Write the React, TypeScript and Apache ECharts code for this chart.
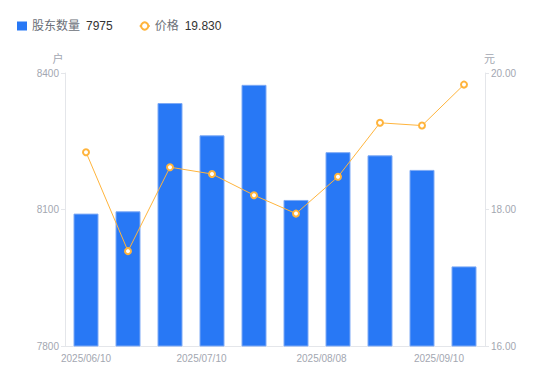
import React, { useEffect, useRef } from "react";
import * as echarts from "echarts";

const categories = [
  "2025/06/10",
  "2025/06/20",
  "2025/06/30",
  "2025/07/10",
  "2025/07/18",
  "2025/07/31",
  "2025/08/08",
  "2025/08/20",
  "2025/08/29",
  "2025/09/10",
];
const holders = [8091, 8096, 8334, 8263, 8374, 8121, 8226, 8219, 8187, 7975];
const prices = [18.84, 17.39, 18.62, 18.52, 18.21, 17.94, 18.48, 19.27, 19.23, 19.83];
const leftTicks = { min: 7800, max: 8400, interval: 300 };
const rightTicks = { min: 16, max: 20, interval: 2 };

export default function App() {
  const ref = useRef<HTMLDivElement>(null);
  useEffect(() => {
    if (!ref.current) return;
    const chart = echarts.init(ref.current, undefined, { renderer: "svg" });
    const font = "'Liberation Sans', 'Noto Sans CJK SC', sans-serif";
    const labelColor = "#a3a7b1";
    const lastHolder = holders[holders.length - 1];
    const lastPrice = prices[prices.length - 1].toFixed(3);
    chart.setOption({
      animation: false,
      textStyle: { fontFamily: font },
      legend: {
        left: 12,
        top: 15,
        itemGap: 26,
        itemWidth: 10,
        itemHeight: 9,
        data: [
          { name: "股东数量", icon: "rect", itemStyle: { borderWidth: 0 } },
          { name: "价格" },
        ],
        formatter: (name: string) =>
          name === "股东数量"
            ? `{n|${name}}{v|${lastHolder}}`
            : `{n|${name}}{v|${lastPrice}}`,
        textStyle: {
          rich: {
            n: { fontSize: 12, color: "#6b6f78", fontFamily: font, padding: [0, 6, 0, 0] },
            v: { fontSize: 12, color: "#333", fontFamily: font },
          },
        },
      },
      grid: { left: 65, right: 65, top: 73, bottom: 35 },
      xAxis: {
        type: "category",
        data: categories,
        axisLine: { lineStyle: { color: "#e4e6ea" } },
        axisTick: { show: false },
        axisLabel: {
          interval: 2,
          color: labelColor,
          fontSize: 10,
          fontFamily: font,
          margin: 7,
          alignMaxLabel: "right",
          formatter: (value: string, index: number) =>
            index === 3 ? `{b|${value}}` : index === 6 ? `{c|${value}}` : value,
          rich: {
            b: { color: labelColor, fontSize: 10, fontFamily: font, padding: [0, 21, 0, 0] },
            c: { color: labelColor, fontSize: 10, fontFamily: font, padding: [0, 33, 0, 0] },
          },
        },
      },
      yAxis: [
        {
          type: "value",
          name: "户",
          nameGap: 9,
          nameTextStyle: { color: labelColor, fontSize: 11, fontFamily: font, padding: [0, 14, 0, 0] },
          ...leftTicks,
          axisLine: { show: true, lineStyle: { color: "#e4e6ea" } },
          axisTick: { show: true, length: 4, lineStyle: { color: "#e4e6ea" } },
          splitLine: { show: false },
          axisLabel: {
            color: labelColor,
            fontSize: 10,
            fontFamily: font,
            margin: 6,
            formatter: (v: number) => String(v),
          },
        },
        {
          type: "value",
          name: "元",
          nameGap: 9,
          nameTextStyle: { color: labelColor, fontSize: 11, fontFamily: font, padding: [0, 0, 0, 9] },
          ...rightTicks,
          axisLine: { show: true, lineStyle: { color: "#e4e6ea" } },
          axisTick: { show: true, length: 4, lineStyle: { color: "#e4e6ea" } },
          splitLine: { show: false },
          axisLabel: {
            color: labelColor,
            fontSize: 10,
            fontFamily: font,
            margin: 6,
            formatter: (v: number) => v.toFixed(2),
          },
        },
      ],
      series: [
        {
          name: "股东数量",
          type: "bar",
          data: holders,
          barWidth: 25,
          itemStyle: { color: "#2878f5", borderColor: "#7eaaf5", borderWidth: 1 },
        },
        {
          name: "价格",
          type: "line",
          yAxisIndex: 1,
          data: prices,
          symbol: "emptyCircle",
          symbolSize: 6,
          lineStyle: { color: "#ffb43c", width: 1 },
          itemStyle: { color: "#ffb43c", borderWidth: 2 },
        },
      ],
    });
    return () => chart.dispose();
  }, []);
  return <div ref={ref} style={{ width: 550, height: 381, margin: -8 }} />;
}
